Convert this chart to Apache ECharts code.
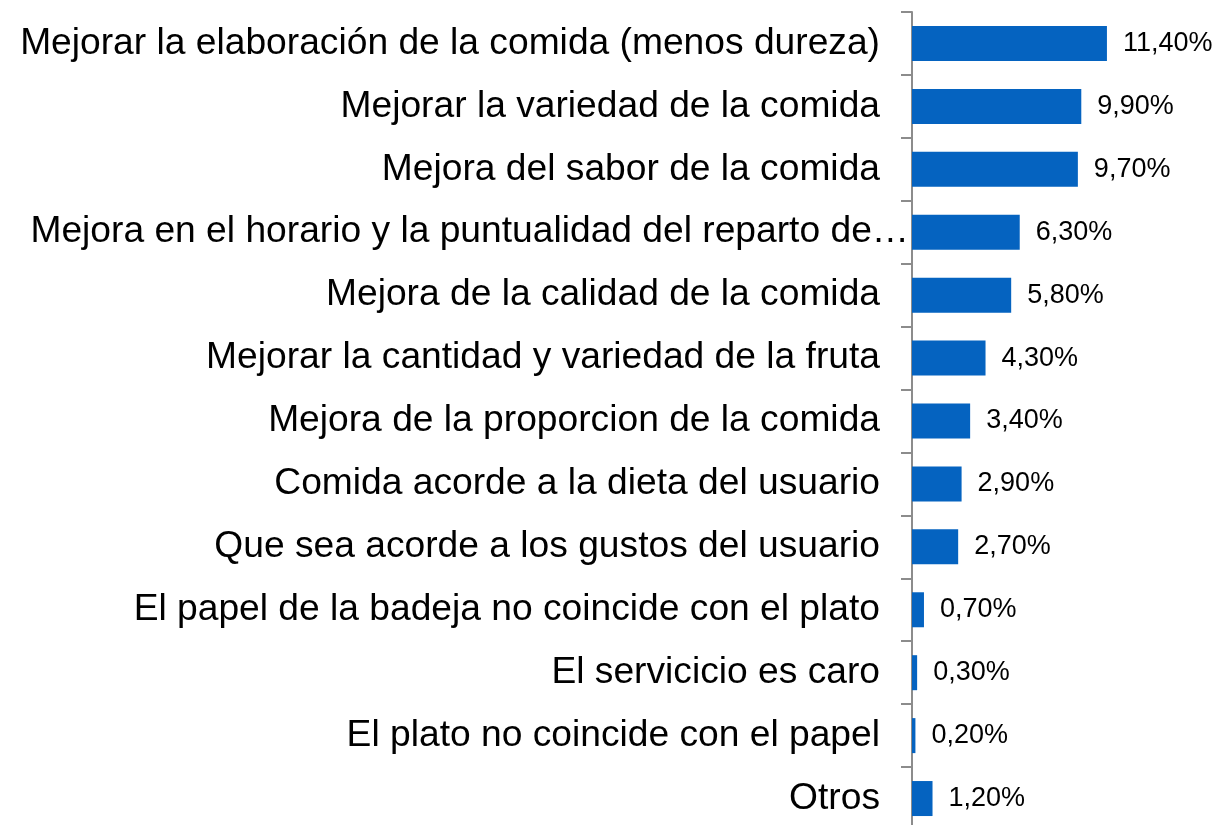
<!DOCTYPE html>
<html>
<head>
<meta charset="utf-8">
<script src="https://cdn.jsdelivr.net/npm/echarts@6/dist/echarts.min.js"></script>
<style>
html,body{margin:0;padding:0;background:#fff;}
#chart{width:1220px;height:825px;}
</style>
</head>
<body>
<div id="chart"></div>
<script>
const categories = [
  "Mejorar la elaboración de la comida (menos dureza)",
  "Mejorar la variedad de la comida",
  "Mejora del sabor de la comida",
  "Mejora en el horario y la puntualidad del reparto de…",
  "Mejora de la calidad de la comida",
  "Mejorar la cantidad y variedad de la fruta",
  "Mejora de la proporcion de la comida",
  "Comida acorde a la dieta del usuario",
  "Que sea acorde a los gustos del usuario",
  "El papel de la badeja no coincide con el plato",
  "El servicicio es caro",
  "El plato no coincide con el papel",
  "Otros"
];
const values = [11.4, 9.9, 9.7, 6.3, 5.8, 4.3, 3.4, 2.9, 2.7, 0.7, 0.3, 0.2, 1.2];

const FONT = 'Liberation Sans, Arial, sans-serif';
const chart = echarts.init(document.getElementById('chart'));
chart.setOption({
  animation: false,
  backgroundColor: '#ffffff',
  grid: { left: 912, top: 12, width: 342, height: 818, containLabel: false, outerBoundsMode: 'none' },
  xAxis: {
    type: 'value', min: 0, max: 20,
    show: false
  },
  yAxis: {
    type: 'category',
    data: categories,
    inverse: true,
    axisLine: { show: true, lineStyle: { color: '#8c8c8c', width: 2 } },
    axisTick: { show: true, length: 11, lineStyle: { color: '#8c8c8c', width: 2 } },
    axisLabel: {
      margin: 2,
      fontFamily: FONT,
      fontSize: 37.2,
      color: '#000000',
      formatter: (v, i) => (i === 3 ? '{t|' : '{n|') + v + '}',
      rich: {
        n: { fontFamily: FONT, fontSize: 37.2, color: '#000000', padding: [0, 30, 0, 0] },
        t: { fontFamily: FONT, fontSize: 37.2, color: '#000000', padding: [0, 1, 0, 0] }
      }
    }
  },
  series: [{
    type: 'bar',
    data: values,
    barWidth: 35,
    itemStyle: { color: '#0563C0' },
    label: {
      show: true,
      position: 'right',
      distance: 16,
      fontFamily: FONT,
      fontSize: 27,
      color: '#000000',
      formatter: p => p.value.toFixed(2).replace('.', ',') + '%'
    }
  }]
});
</script>
</body>
</html>
